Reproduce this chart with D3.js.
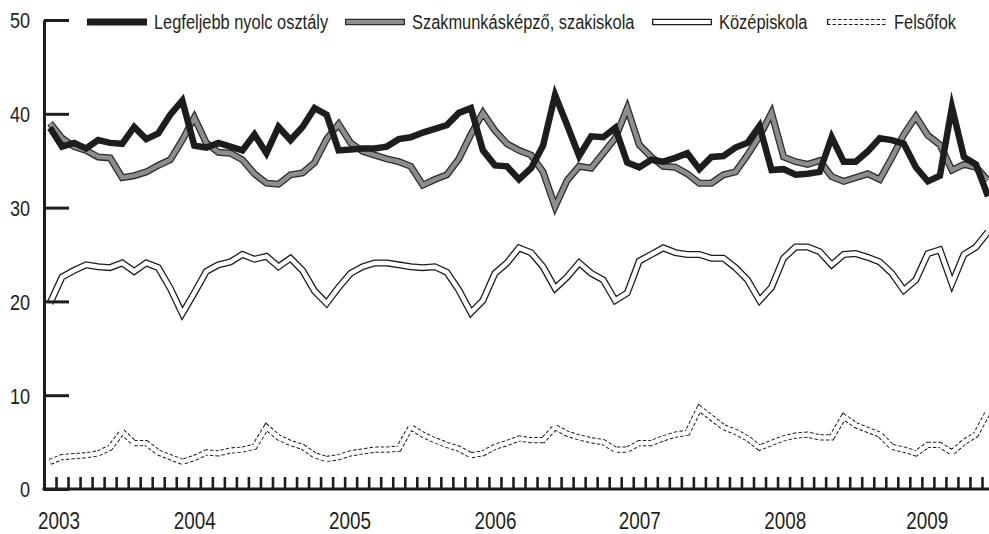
<!DOCTYPE html>
<html>
<head>
<meta charset="utf-8">
<script src="https://cdn.jsdelivr.net/npm/d3@7"></script>
<style>
  html, body { margin: 0; padding: 0; background: #fff; }
  svg { display: block; }
  text { font-family: "Liberation Sans", Arial, sans-serif; fill: #231f20; }
</style>
</head>
<body>
<svg id="chart" width="989" height="534"></svg>
<script>
// ---- data ----
const seriesNames = ["Legfeljebb nyolc osztály", "Szakmunkásképző, szakiskola", "Középiskola", "Felsőfok"];

// monthly categories Jan 2003 .. Jul 2009 (79 months)
const months = d3.timeMonth.range(new Date(2003, 0, 1), new Date(2009, 7, 1));

const legfeljebbNyolc = [
  38.5, 36.5, 36.9, 36.3, 37.2, 36.9, 36.8, 38.6, 37.3, 37.9, 39.9, 41.4,
  36.6, 36.4, 36.9, 36.5, 36.1, 37.8, 35.8, 38.6, 37.2, 38.6, 40.6, 39.9,
  36.1, 36.2, 36.3, 36.3, 36.5, 37.3, 37.5, 38.0, 38.4, 38.8, 40.1, 40.6,
  36.1, 34.5, 34.4, 33.0, 34.2, 36.6, 42.0, 38.8, 35.5, 37.6, 37.5, 38.5,
  34.8, 34.3, 35.1, 34.9, 35.3, 35.8, 34.1, 35.4, 35.5, 36.4, 36.9, 38.7,
  34.0, 34.1, 33.5, 33.6, 33.8, 37.5, 34.9, 34.9, 36.0, 37.4, 37.2, 36.8,
  34.3, 32.8, 33.4, 40.7, 35.4, 34.6, 31.2
];
const szakmunkas = [
  39.0, 37.4, 36.5, 36.1, 35.4, 35.3, 33.2, 33.4, 33.8, 34.5, 35.1, 37.2,
  39.6, 36.9, 35.9, 35.8, 35.1, 33.6, 32.6, 32.5, 33.5, 33.7, 34.8, 37.3,
  38.9, 36.9, 36.0, 35.6, 35.2, 34.9, 34.4, 32.4, 33.0, 33.5, 35.2, 37.8,
  40.1, 38.2, 36.8, 36.1, 35.6, 33.8, 30.1, 32.9, 34.4, 34.2, 35.8, 37.4,
  40.6, 36.7, 35.4, 34.4, 34.3, 33.6, 32.6, 32.6, 33.5, 33.8, 35.6, 37.6,
  40.1, 35.4, 34.9, 34.6, 35.0, 33.3, 32.8, 33.2, 33.6, 33.0, 35.3, 37.8,
  39.7, 37.7, 36.7, 34.0, 34.6, 34.3, 32.9
];
const kozepiskola = [
  19.8, 22.6, 23.3, 23.9, 23.7, 23.6, 24.1, 23.2, 24.1, 23.6, 21.4, 18.7,
  20.9, 23.2, 23.9, 24.2, 25.0, 24.5, 24.8, 23.7, 24.6, 23.3, 21.1, 19.8,
  21.5, 23.0, 23.7, 24.1, 24.1, 23.9, 23.7, 23.6, 23.7, 23.1, 21.2, 18.8,
  20.1, 23.0, 24.1, 25.7, 25.2, 23.7, 21.4, 22.6, 24.1, 23.0, 22.3, 20.1,
  20.9, 24.3, 25.0, 25.7, 25.2, 25.0, 25.0, 24.6, 24.6, 23.6, 22.3, 20.1,
  21.5, 24.6, 25.8, 25.8, 25.3, 23.9, 25.0, 25.1, 24.7, 24.2, 23.0, 21.2,
  22.3, 25.1, 25.5, 21.9, 25.0, 25.8, 27.4
];
const felsofok = [
  2.9, 3.4, 3.5, 3.6, 3.8, 4.4, 6.1, 4.9, 4.9, 3.9, 3.4, 2.9,
  3.3, 3.9, 3.8, 4.1, 4.2, 4.5, 6.6, 5.5, 4.9, 4.5, 3.6, 3.2,
  3.4, 3.8, 4.0, 4.2, 4.2, 4.3, 6.6, 5.8, 5.2, 4.7, 4.3, 3.6,
  3.8, 4.5, 4.9, 5.4, 5.2, 5.2, 6.6, 5.9, 5.5, 5.2, 5.0, 4.2,
  4.2, 4.9, 4.9, 5.4, 5.8, 6.0, 8.6, 7.6, 6.6, 6.1, 5.4, 4.4,
  4.9, 5.4, 5.7, 5.8, 5.5, 5.5, 7.7, 6.8, 6.3, 5.8, 4.5, 4.2,
  3.8, 4.7, 4.7, 3.9, 5.0, 5.8, 8.2
];

const yTicks = [0, 10, 20, 30, 40, 50];
const yearLabels = ["2003", "2004", "2005", "2006", "2007", "2008", "2009"];
const yearLabelPos = [0.7, 12, 24.9, 37, 49, 61.1, 72.9]; // month index where label sits

// ---- drawing ----
const svg = d3.select("#chart");
const n = months.length;
const x = d3.scaleLinear().domain([0, n - 1]).range([50, 988]);
const y = d3.scaleLinear().domain([0, 50]).range([489, 20]);

const ink = "#1f1c1d";
const FONT = '"Liberation Sans", Arial, sans-serif';
const NARROW = 0.82; // emulate a condensed face

function condense(sel) {
  sel.each(function () {
    const w = this.getComputedTextLength();
    d3.select(this).attr("textLength", w * NARROW).attr("lengthAdjust", "spacingAndGlyphs");
  });
}

const line = d3.line().x((d, i) => x(i)).y(d => y(d)).curve(d3.curveLinear);

const plot = svg.append("g");

function addPath(data, stroke, width, dash) {
  const p = plot.append("path").datum(data).attr("d", line)
    .attr("fill", "none").attr("stroke", stroke).attr("stroke-width", width)
    .attr("stroke-linejoin", "miter").attr("stroke-miterlimit", 6);
  if (dash) p.attr("stroke-dasharray", dash);
  return p;
}

// Felsőfok: dashed double line
addPath(felsofok, ink, 6.2, "3.5,2");
addPath(felsofok, "#fff", 4.2);
// Középiskola: solid double line
addPath(kozepiskola, ink, 7);
addPath(kozepiskola, "#fff", 4.4);
// Szakmunkásképző: grey with dark border
addPath(szakmunkas, "#2e2b2c", 7);
addPath(szakmunkas, "#8d8d8d", 4.4);
// Legfeljebb nyolc osztály: thick black
addPath(legfeljebbNyolc, ink, 6.5);

// ---- axes ----
const axisX0 = 44;

const yAxis = d3.axisLeft(y).tickValues(yTicks).tickSize(-25).tickSizeOuter(0).tickPadding(14);
const gy = svg.append("g").attr("transform", `translate(${axisX0},0)`).call(yAxis);
gy.select(".domain").attr("stroke", ink).attr("stroke-width", 3);
gy.selectAll(".tick line").attr("stroke", ink).attr("stroke-width", 3);
gy.selectAll(".tick text").attr("font-size", 22).attr("fill", "#231f20")
  .attr("font-family", FONT).attr("dy", "0.36em").call(condense);

// monthly tick marks
const xAxis = d3.axisBottom(x).tickValues(d3.range(0.5, n - 1, 1)).tickSize(-12).tickSizeOuter(0).tickFormat("");
const gx = svg.append("g").attr("transform", `translate(0,${y(0)})`).call(xAxis);
gx.select(".domain").remove();
gx.selectAll(".tick line").attr("stroke", ink).attr("stroke-width", 2.6);
gx.append("line").attr("x1", axisX0 - 1.5).attr("x2", 989).attr("y1", 0).attr("y2", 0)
  .attr("stroke", ink).attr("stroke-width", 3);

// year labels
const yearAxis = d3.axisBottom(x).tickValues(yearLabelPos).tickSize(0).tickPadding(24)
  .tickFormat((d, i) => yearLabels[i]);
const gyr = svg.append("g").attr("transform", `translate(0,${y(0)})`).call(yearAxis);
gyr.select(".domain").remove();
gyr.selectAll(".tick text").attr("font-size", 23).attr("fill", "#231f20")
  .attr("font-family", FONT).call(condense);

// ---- legend ----
const legendY = 22;
const legendItems = [
  { name: seriesNames[0], x: 87, type: "black" },
  { name: seriesNames[1], x: 345, type: "grey" },
  { name: seriesNames[2], x: 652, type: "white" },
  { name: seriesNames[3], x: 827, type: "dashed" }
];
const sampleLen = 60;
const lg = svg.append("g");
legendItems.forEach(it => {
  const g = lg.append("g").attr("transform", `translate(${it.x},${legendY})`);
  const seg = (stroke, w, dash, inset) => {
    const l = g.append("line").attr("x1", inset || 0).attr("x2", sampleLen - (inset || 0))
      .attr("y1", 0).attr("y2", 0).attr("stroke", stroke).attr("stroke-width", w);
    if (dash) l.attr("stroke-dasharray", dash);
  };
  if (it.type === "black") {
    seg(ink, 7);
  } else if (it.type === "grey") {
    seg("#2e2b2c", 6.5);
    seg("#8d8d8d", 4, null, 1.3);
  } else if (it.type === "white") {
    seg(ink, 6.5);
    seg("#fff", 4, null, 1.3);
  } else {
    seg(ink, 6, "3.5,2");
    seg("#fff", 4, null, 1.3);
  }
  g.append("text").attr("x", sampleLen + 7).attr("y", 7).attr("font-size", 20)
    .attr("font-family", FONT).text(it.name).call(condense);
});
</script>
</body>
</html>
